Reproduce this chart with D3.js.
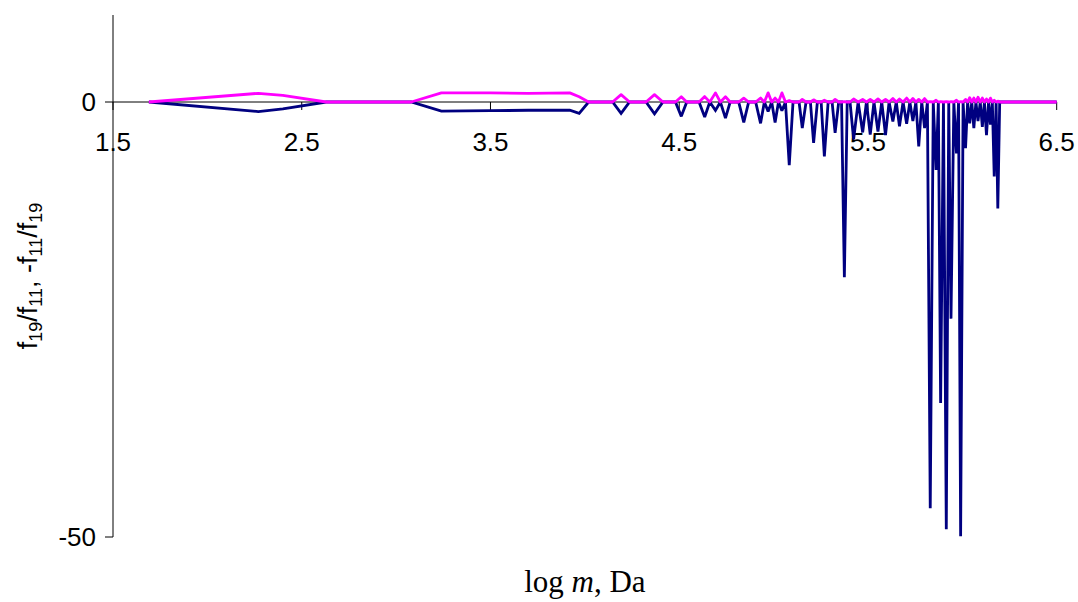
<!DOCTYPE html>
<html>
<head>
<meta charset="utf-8">
<script src="https://cdn.jsdelivr.net/npm/d3@7"></script>
<style>
  html, body { margin: 0; padding: 0; background: #fff; }
  svg { display: block; }
</style>
</head>
<body>
<svg id="chart" width="1078" height="602"></svg>
<script>
// log m (Da) sample positions
const logM = [
  1.69, 2.27, 2.40, 2.63, 3.08, 3.24, 3.50, 3.70, 3.92, 3.97, 4.02,
  4.147, 4.192, 4.237, 4.324, 4.369, 4.414, 4.48, 4.511, 4.54,
  4.605, 4.635, 4.662, 4.692, 4.718, 4.745, 4.77, 4.815, 4.842, 4.868,
  4.905, 4.931, 4.951, 4.971, 4.99, 5.008, 5.026, 5.044, 5.063,
  5.083, 5.103, 5.135, 5.152, 5.172, 5.195, 5.212, 5.232, 5.252, 5.269, 5.289,
  5.31, 5.326, 5.345, 5.36, 5.375, 5.39, 5.405, 5.424, 5.448, 5.472, 5.492,
  5.512, 5.532, 5.553, 5.573, 5.593, 5.612, 5.632, 5.65, 5.667, 5.686,
  5.705, 5.722, 5.738, 5.754, 5.769, 5.785, 5.800, 5.815, 5.830, 5.846,
  5.861, 5.873, 5.885, 5.90, 5.915, 5.928, 5.940, 5.955, 5.969, 5.98,
  5.991, 6.004, 6.017, 6.028, 6.039, 6.05, 6.061, 6.072, 6.083, 6.095,
  6.106, 6.117, 6.128, 6.139, 6.149, 6.159, 6.169, 6.179, 6.188, 6.198,
  6.50
];

// f19/f11
const ratio19to11 = [
  0, 1.0, 0.75, 0, 0, 1.05, 1.05, 1.0, 1.05, 0.6, 0,
  0, 0.85, 0, 0, 0.85, 0, 0, 0.6, 0,
  0, 0.62, 0, 1.05, 0, 0.6, 0, 0, 0.45, 0,
  0, 0.45, 0, 1.05, 0, 0.45, 0, 1.05, 0,
  0.15, 0, 0, 0.3, 0, 0, 0.25, 0, 0, 0.2, 0,
  0, 0.3, 0, 0, 0.05, 0, 0, 0.35, 0, 0.3, 0,
  0.3, 0, 0.35, 0, 0.3, 0, 0.4, 0, 0.35, 0,
  0.45, 0, 0.4, 0, 0.3, 0, 0.4, 0, 0.05, 0,
  0.2, 0, 0.05, 0, 0.05, 0, 0.05, 0, 0.2, 0,
  0.05, 0, 0.3, 0, 0.5, 0, 0.45, 0, 0.55, 0,
  0.45, 0, 0.35, 0, 0.45, 0, 0.2, 0, 0.1, 0,
  0
];

// -f11/f19
const negRatio11to19 = [
  0, -1.1, -0.8, 0, 0, -1.05, -1.0, -0.95, -0.95, -1.3, 0,
  0, -1.3, 0, 0, -1.35, 0, 0, -1.65, 0,
  0, -1.72, 0, -0.96, 0, -1.85, 0, 0, -2.35, 0,
  0, -2.45, 0, -1.08, 0, -2.35, 0, -1.0, 0,
  -7.25, 0, 0, -3.0, 0, 0, -4.7, 0, 0, -6.25, 0,
  0, -3.55, 0, 0, -20.15, 0, 0, -4.3, 0, -3.5, 0,
  -3.75, 0, -3.4, 0, -3.8, 0, -2.25, 0, -2.8, 0,
  -2.5, 0, -2.2, 0, -5.1, 0, -3.0, 0, -46.7, 0,
  -7.8, 0, -34.6, 0, -49.1, 0, -24.9, 0, -5.9, 0,
  -49.9, 0, -5.3, 0, -2.45, 0, -3.0, 0, -2.2, 0,
  -2.85, 0, -3.8, 0, -2.6, 0, -8.55, 0, -12.25, 0,
  0
];

const xTicks = [1.5, 2.5, 3.5, 4.5, 5.5, 6.5];
const yTicks = [-50, 0];

const svg = d3.select("#chart");
svg.append("rect").attr("width", 1078).attr("height", 602).attr("fill", "#fff");

const x = d3.scaleLinear().domain([1.5, 6.5]).range([113, 1056.7]);
const y = d3.scaleLinear().domain([-50, 10]).range([537, 15]);

const sans = "Liberation Sans, Arial, sans-serif";

// y axis line
svg.append("line")
  .attr("x1", x(1.5)).attr("x2", x(1.5))
  .attr("y1", y(10)).attr("y2", y(-50))
  .attr("stroke", "#000").attr("stroke-width", 1);

// y ticks and labels
yTicks.forEach(v => {
  svg.append("line")
    .attr("x1", x(1.5) - 8).attr("x2", x(1.5))
    .attr("y1", y(v)).attr("y2", y(v))
    .attr("stroke", "#000").attr("stroke-width", 1);
  svg.append("text")
    .attr("x", x(1.5) - 17).attr("y", y(v))
    .attr("dy", "0.36em")
    .attr("text-anchor", "end")
    .attr("font-family", sans)
    .attr("font-size", 26)
    .text(v);
});

// x axis along zero, ticks pointing down
svg.append("line")
  .attr("x1", x(1.5)).attr("x2", x(6.5))
  .attr("y1", y(0)).attr("y2", y(0))
  .attr("stroke", "#000").attr("stroke-width", 1);

xTicks.forEach(v => {
  svg.append("line")
    .attr("x1", x(v)).attr("x2", x(v))
    .attr("y1", y(0)).attr("y2", y(0) + 8)
    .attr("stroke", "#000").attr("stroke-width", 1);
  svg.append("text")
    .attr("x", x(v)).attr("y", y(0) + 40)
    .attr("dy", "0.36em")
    .attr("text-anchor", "middle")
    .attr("font-family", sans)
    .attr("font-size", 26)
    .text(v.toFixed(1));
});

// data series
const pts = (vals) => logM.map((m, i) => [m, vals[i]]);
const line = d3.line().x(d => x(d[0])).y(d => y(d[1]));

svg.append("path")
  .datum(pts(negRatio11to19))
  .attr("d", line)
  .attr("fill", "none")
  .attr("stroke", "#000080")
  .attr("stroke-width", 2.8)
  .attr("stroke-linejoin", "miter")
  .attr("stroke-miterlimit", 2);

svg.append("path")
  .datum(pts(ratio19to11))
  .attr("d", line)
  .attr("fill", "none")
  .attr("stroke", "#FF00FF")
  .attr("stroke-width", 2.8)
  .attr("stroke-linejoin", "round");

// axis titles
const yTitle = svg.append("text")
  .attr("transform", `translate(37, ${(y(10) + y(-50)) / 2}) rotate(-90)`)
  .attr("text-anchor", "middle")
  .attr("font-family", sans)
  .attr("font-size", 27);
[["f", null], ["19", "sub"], ["/f", null], ["11", "sub"], [", -f", null], ["11", "sub"], ["/f", null], ["19", "sub"]]
  .forEach(([t, kind], i) => {
    const ts = yTitle.append("tspan").text(t);
    if (kind === "sub") ts.attr("font-size", 18).attr("dy", 5);
    else ts.attr("dy", i > 0 ? -5 : 0);
  });

const xTitle = svg.append("text")
  .attr("x", (x(1.5) + x(6.5)) / 2)
  .attr("y", 592)
  .attr("text-anchor", "middle")
  .attr("font-family", "Liberation Serif, Times New Roman, serif")
  .attr("font-size", 31);
xTitle.append("tspan").text("log ");
xTitle.append("tspan").attr("font-style", "italic").text("m");
xTitle.append("tspan").text(", Da");
</script>
</body>
</html>
